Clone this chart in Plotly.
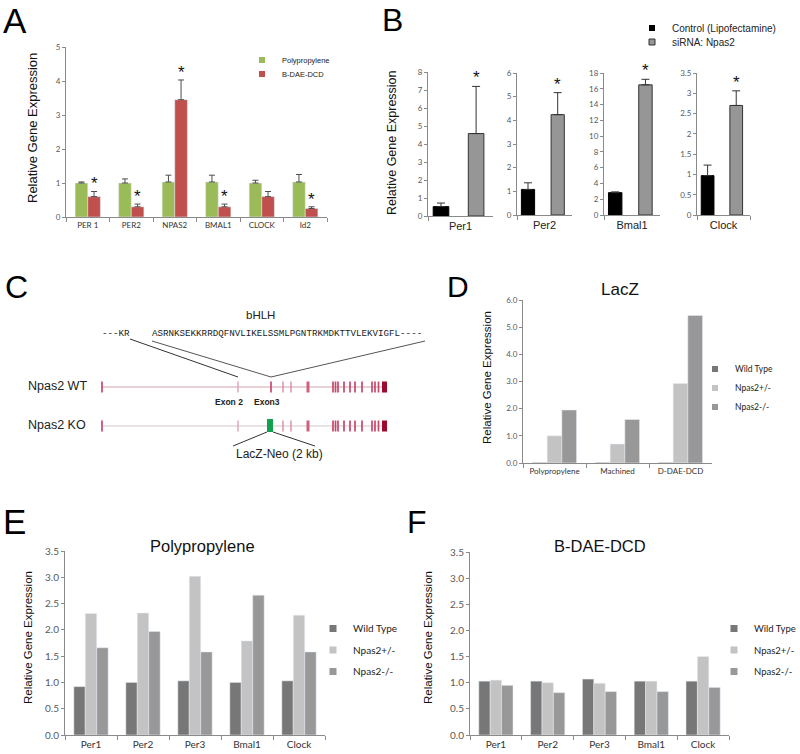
import plotly.graph_objects as go

W, H = 800, 754
OX, OY = 0, 0  # body margin removed in the page (see write_html below)

# ---------------- data ----------------
# Panel A
a_genes = ["PER 1", "PER2", "NPAS2", "BMAL1", "CLOCK", "Id2"]
a_poly = [1.0, 1.0, 1.03, 1.03, 1.0, 1.03]
a_poly_err = [0.03, 0.12, 0.2, 0.2, 0.08, 0.22]
a_bdae = [0.6, 0.3, 3.45, 0.3, 0.6, 0.25]
a_bdae_err = [0.15, 0.08, 0.58, 0.08, 0.15, 0.05]
a_sig = [True, True, True, True, False, True]

# Panel B
b_genes = ["Per1", "Per2", "Bmal1", "Clock"]
b_ctrl = [0.52, 1.08, 2.83, 0.97]
b_ctrl_err = [0.2, 0.28, 0.1, 0.26]
b_sirna = [4.58, 4.24, 16.5, 2.7]
b_sirna_err = [2.62, 0.93, 0.7, 0.36]
b_ymax = [8, 6, 18, 3.5]
b_dtick = [1, 1, 2, 0.5]

# Panel C (schematic, diagram units)
wt_exon_pos = [102, 238, 271, 283, 291, 308, 333, 335.5, 338, 344, 350, 355, 362, 372, 375, 378.5, 384.5]
ko_exon_pos = [102, 238, 283, 291, 308, 333, 335.5, 338, 344, 350, 355, 362, 372, 375, 378.5, 384.5]
ko_cassette = [267, 273]
seq_left = "---KR"
seq_bhlh = "ASRNKSEKKRRDQFNVLIKELSSMLPGNTRKMDKTTVLEKVIGFL----"

# Panel D
d_groups = ["Polypropylene", "Machined", "D-DAE-DCD"]
d_wt = [0.02, 0.02, 0.02]
d_het = [1.0, 0.7, 2.93]
d_ko = [1.95, 1.6, 5.43]

# Panels E / F
ef_genes = ["Per1", "Per2", "Per3", "Bmal1", "Clock"]
e_wt = [0.92, 1.0, 1.03, 1.0, 1.03]
e_het = [2.31, 2.32, 3.02, 1.79, 2.28]
e_ko = [1.66, 1.97, 1.58, 2.66, 1.58]
f_wt = [1.03, 1.03, 1.07, 1.03, 1.03]
f_het = [1.05, 1.0, 0.99, 1.03, 1.5]
f_ko = [0.95, 0.81, 0.83, 0.83, 0.91]

series_names = ["Wild Type", "Npas2+/-", "Npas2-/-"]

# ---------------- styles ----------------
GREEN = "#9BBB59"
RED = "#C0504D"
C_WT = "#777777"
C_HET = "#C3C3C3"
C_KO = "#989898"
AX = "#8a8a8a"
ARIAL = "Liberation Sans, Arial, sans-serif"
CALIB = "Lato, Carlito, sans-serif"
MONO = "Liberation Mono, Courier New, monospace"


def X(p):
    return (p - OX) / W


def Y(p):
    return 1 - (p - OY) / H


def yax(top, bot, rng, dtick, anchor, fmt=None, size=8):
    d = dict(domain=[Y(bot), Y(top)], range=rng, dtick=dtick, tick0=0, anchor=anchor,
             showline=True, linecolor=AX, linewidth=1, ticks="outside", ticklen=3,
             tickcolor=AX, showgrid=False, zeroline=False, fixedrange=True, automargin=False,
             tickfont=dict(family=CALIB, size=size, color="#595959"))
    if fmt:
        d["tickformat"] = fmt
    return d


def xax(left, right, anchor, n, size=8, family=CALIB, color="#333333"):
    return dict(domain=[X(left), X(right)], anchor=anchor, type="category",
                range=[-0.5, n - 0.5], showline=True, linecolor=AX, linewidth=1,
                ticks="outside", tickson="boundaries", ticklen=4, tickcolor=AX,
                showgrid=False, zeroline=False, fixedrange=True, automargin=False,
                tickfont=dict(family=family, size=size, color=color))


fig = go.Figure()
annotations = []
shapes = []

# ---------------- Panel A ----------------
wa = 0.29
fig.add_trace(go.Bar(x=a_genes, y=a_poly, width=wa, offset=-wa, marker_color=GREEN,
                     error_y=dict(type="data", array=a_poly_err, arrayminus=[0 for _ in a_poly],
                                  symmetric=False, color="#4d4d4d", thickness=1, width=3),
                     xaxis="x", yaxis="y", showlegend=False, name="Polypropylene"))
fig.add_trace(go.Bar(x=a_genes, y=a_bdae, width=wa, offset=0, marker_color=RED,
                     error_y=dict(type="data", array=a_bdae_err, arrayminus=[0 for _ in a_bdae],
                                  symmetric=False, color="#4d4d4d", thickness=1, width=3),
                     xaxis="x", yaxis="y", showlegend=False, name="B-DAE-DCD"))
for i, (v, e, s) in enumerate(zip(a_bdae, a_bdae_err, a_sig)):
    if s:
        annotations.append(dict(x=i + wa / 2, y=v + e, xref="x", yref="y", text="*",
                                showarrow=False, xanchor="center", yanchor="bottom", yshift=-4,
                                font=dict(family=ARIAL, size=17, color="#111")))
fig.add_trace(go.Scatter(x=[None], y=[None], mode="markers", name="Polypropylene",
                         marker=dict(symbol="square", size=6, color=GREEN),
                         xaxis="x", yaxis="y", legend="legend"))
fig.add_trace(go.Scatter(x=[None], y=[None], mode="markers", name="B-DAE-DCD",
                         marker=dict(symbol="square", size=6, color=RED),
                         xaxis="x", yaxis="y", legend="legend2"))

# ---------------- Panel B ----------------
b_dom = [(428, 493, 72, 216), (517, 572, 73, 215), (604, 660, 73, 215), (697, 750, 73, 215)]
bw = 0.24
for i, g in enumerate(b_genes):
    xa, ya = f"x{i + 2}", f"y{i + 2}"
    fig.add_trace(go.Bar(x=[g], y=[b_ctrl[i]], width=bw, offset=-0.42,
                         marker=dict(color="#000000", line=dict(color="#000000", width=1)),
                         error_y=dict(type="data", array=[b_ctrl_err[i]], arrayminus=[0],
                                      symmetric=False, color="#333333", thickness=1, width=4),
                         xaxis=xa, yaxis=ya, showlegend=False, name="Control (Lipofectamine)"))
    fig.add_trace(go.Bar(x=[g], y=[b_sirna[i]], width=bw, offset=0.12,
                         marker=dict(color="#969696", line=dict(color="#333333", width=1)),
                         error_y=dict(type="data", array=[b_sirna_err[i]], arrayminus=[0],
                                      symmetric=False, color="#333333", thickness=1, width=4),
                         xaxis=xa, yaxis=ya, showlegend=False, name="siRNA: Npas2"))
    annotations.append(dict(x=0.12 + bw / 2, y=b_sirna[i] + b_sirna_err[i], xref=xa, yref=ya,
                            text="*", showarrow=False, xanchor="center", yanchor="bottom", yshift=-3,
                            font=dict(family=ARIAL, size=17, color="#111")))
fig.add_trace(go.Scatter(x=[None], y=[None], mode="markers", name="Control (Lipofectamine)",
                         marker=dict(symbol="square", size=6, color="#000000"),
                         xaxis="x2", yaxis="y2", legend="legend3"))
fig.add_trace(go.Scatter(x=[None], y=[None], mode="markers", name="siRNA: Npas2",
                         marker=dict(symbol="square", size=6, color="#969696",
                                     line=dict(color="#333333", width=1)),
                         xaxis="x2", yaxis="y2", legend="legend4"))

# ---------------- Panel D ----------------
wd = 0.233
for k, (vals, col) in enumerate(zip([d_wt, d_het, d_ko], [C_WT, C_HET, C_KO])):
    fig.add_trace(go.Bar(x=d_groups, y=vals, width=wd, offset=-1.5 * wd + k * wd,
                         marker_color=col, xaxis="x7", yaxis="y7", showlegend=False,
                         name=series_names[k]))
    fig.add_trace(go.Scatter(x=[None], y=[None], mode="markers", name=series_names[k],
                             marker=dict(symbol="square", size=6, color=col),
                             xaxis="x7", yaxis="y7", legend="legend5"))

# ---------------- Panels E / F ----------------
we = 0.22
for panel, data, xa, ya, lg in [("E", [e_wt, e_het, e_ko], "x8", "y8", "legend6"),
                                ("F", [f_wt, f_het, f_ko], "x9", "y9", "legend7")]:
    for k, (vals, col) in enumerate(zip(data, [C_WT, C_HET, C_KO])):
        fig.add_trace(go.Bar(x=ef_genes, y=vals, width=we, offset=-1.5 * we + k * we,
                             marker_color=col, xaxis=xa, yaxis=ya, showlegend=False,
                             name=series_names[k]))
        fig.add_trace(go.Scatter(x=[None], y=[None], mode="markers", name=series_names[k],
                                 marker=dict(symbol="square", size=7, color=col),
                                 xaxis=xa, yaxis=ya, legend=lg,
                                 legendgroup=f"{panel}{k}"))

# ---------------- Panel C (schematic) ----------------
fig.add_trace(go.Scatter(x=[None], y=[None], xaxis="x6", yaxis="y6", showlegend=False))
ref = dict(xref="x6", yref="y6")


def exon_style(p):
    if p == 238:
        return "#e3a1b3", 1.4
    if p in (283, 291):
        return "#db8aa1", 1.4
    if p == 308:
        return "#d0607f", 3
    if p == 384.5:
        return "#9b0b2d", 5
    return "#c6486b", 1.7


for yline, exons, lc in [(387, wt_exon_pos, "#cfa3ae"), (426, ko_exon_pos, "#d3c7ca")]:
    shapes.append(dict(type="line", x0=min(exons), x1=max(exons) + 2, y0=yline, y1=yline,
                       line=dict(color=lc, width=1), layer="below", **ref))
    for p in exons:
        col, wdt = exon_style(p)
        shapes.append(dict(type="rect", x0=p - wdt / 2, x1=p + wdt / 2, y0=yline - 5.5,
                           y1=yline + 5.5, fillcolor=col, line=dict(width=0), **ref))
shapes.append(dict(type="rect", x0=ko_cassette[0], x1=ko_cassette[1], y0=419, y1=432,
                   fillcolor="#12a04e", line=dict(width=0), **ref))
for (x0, y0, x1, y1, c) in [(130, 339, 238, 377, "#333333"), (152, 341, 271, 377, "#555555"),
                            (425, 341, 271, 377, "#555555"), (267, 432, 233, 446, "#333333"),
                            (273, 432, 315, 446, "#333333")]:
    shapes.append(dict(type="line", x0=x0, y0=y0, x1=x1, y1=y1,
                       line=dict(color=c, width=1), **ref))

c_ann = [
    dict(x=260, y=315, text="bHLH", font=dict(family=ARIAL, size=11.5, color="#222")),
    dict(x=100, y=333, text=seq_left, xanchor="left", font=dict(family=MONO, size=9.2, color="#222")),
    dict(x=150, y=333, text=seq_bhlh, xanchor="left", font=dict(family=MONO, size=9.2, color="#222")),
    dict(x=57, y=386, text="Npas2 WT", font=dict(family=ARIAL, size=12.5, color="#222")),
    dict(x=57, y=425, text="Npas2 KO", font=dict(family=ARIAL, size=12.5, color="#222")),
    dict(x=229, y=402, text="<b>Exon 2</b>", font=dict(family=ARIAL, size=8.5, color="#222")),
    dict(x=267, y=402, text="<b>Exon3</b>", font=dict(family=ARIAL, size=8.5, color="#222")),
    dict(x=279, y=454, text="LacZ-Neo (2 kb)", font=dict(family=ARIAL, size=12, color="#222")),
]
for a in c_ann:
    a.update(ref)
    a["showarrow"] = False
    a.setdefault("xanchor", "center")
    a["yanchor"] = "middle"
annotations += c_ann


# ---------------- paper annotations ----------------
def pa(x, y, text, size, angle=0, family=ARIAL, color="#000"):
    return dict(x=X(x), y=Y(y), xref="paper", yref="paper", text=text, showarrow=False,
                xanchor="center", yanchor="middle",
                textangle=angle, font=dict(family=family, size=size, color=color))


annotations += [
    pa(15, 20, "A", 35), pa(392, 20, "B", 32), pa(16, 287, "C", 32),
    pa(458, 287, "D", 30), pa(14, 521, "E", 35), pa(417, 522, "F", 32),
    pa(33, 128, "Relative Gene Expression", 13, -90, color="#111"),
    pa(392, 143, "Relative Gene Expression", 12.5, -90, color="#111"),
    pa(487, 378, "Relative Gene Expression", 11.5, -90, color="#111"),
    pa(28, 638, "Relative Gene Expression", 11.5, -90, color="#111"),
    pa(428, 638, "Relative Gene Expression", 11.5, -90, color="#111"),
    pa(620, 289, "LacZ", 17, color="#111"),
    pa(202, 546, "Polypropylene", 16.5, color="#111"),
    pa(600, 546, "B-DAE-DCD", 16.5, color="#111"),
]


def leg(text_x, yc, size, family=CALIB, gap=0):
    return dict(x=X(text_x - 40), y=Y(yc), xanchor="left", yanchor="middle",
                xref="container", yref="container",
                bgcolor="rgba(0,0,0,0)", font=dict(family=family, size=size, color="#222"),
                tracegroupgap=gap, itemclick=False, itemdoubleclick=False)


layout = dict(
    width=W, height=H, autosize=False,
    margin=dict(l=0, r=0, t=0, b=0, pad=0, autoexpand=False),
    paper_bgcolor="white", plot_bgcolor="white", barmode="group",
    xaxis=xax(66, 327, "y", len(a_genes)),
    yaxis=yax(47, 217, [0, 5], 1, "x"),
    xaxis6=dict(domain=[X(10), X(440)], range=[10, 440], visible=False, anchor="y6", fixedrange=True),
    yaxis6=dict(domain=[Y(470), Y(290)], range=[470, 290], visible=False, anchor="x6", fixedrange=True),
    xaxis7=xax(523, 712, "y7", len(d_groups)),
    yaxis7=yax(300, 463, [0, 6], 1, "x7", fmt=".1f"),
    xaxis8=xax(65, 325, "y8", len(ef_genes), size=10),
    yaxis8=yax(551, 735, [0, 3.5], 0.5, "x8", fmt=".1f", size=10),
    xaxis9=xax(470, 729, "y9", len(ef_genes), size=10),
    yaxis9=yax(552, 735, [0, 3.5], 0.5, "x9", fmt=".1f", size=10),
    legend=leg(282, 60, 7.5, ARIAL),
    legend2=leg(282, 74, 7.5, ARIAL),
    legend3=leg(672, 28, 10, ARIAL),
    legend4=leg(672, 42, 10, ARIAL),
    legend5=leg(735, 388, 8.5),
    legend6=leg(353, 650, 10, gap=2.5),
    legend7=leg(754, 650, 9.5, gap=2.5),
    annotations=annotations, shapes=shapes,
)
for i, (l, r, t, b) in enumerate(b_dom):
    layout[f"xaxis{i + 2}"] = xax(l, r, f"y{i + 2}", 1, size=11, family=ARIAL, color="#222")
    layout[f"yaxis{i + 2}"] = yax(t, b, [0, b_ymax[i]], b_dtick[i], f"x{i + 2}")

fig.update_layout(**layout)
fig.write_html("out.html", config={"displayModeBar": False},
               post_script="document.body.style.margin='0';document.body.style.overflow='hidden';")
